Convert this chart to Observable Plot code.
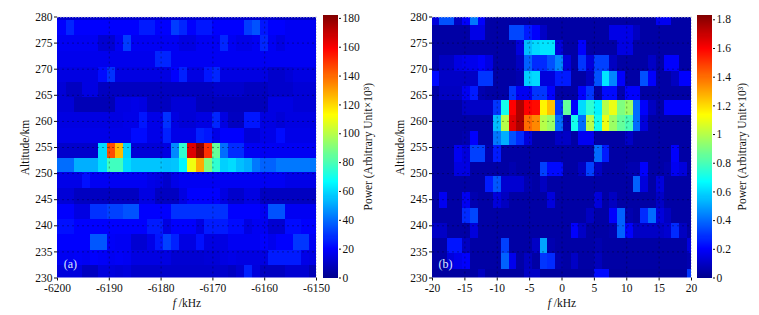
<!DOCTYPE html>
<html>
<head>
<meta charset="utf-8">
<script src="https://cdn.jsdelivr.net/npm/d3@7"></script>
<script src="https://cdn.jsdelivr.net/npm/@observablehq/plot@0.6"></script>
<style>
html,body{margin:0;padding:0;background:#fff;}
#chart{position:relative;width:759px;height:315px;overflow:hidden;}
#chart svg{position:absolute;top:0;background:transparent;}
</style>
</head>
<body>
<div id="chart"></div>
<script>
// Shared tick labels
const altitudeTicks = [230,235,240,245,250,255,260,265,270,275,280];
const freqTicksA = [-6200,-6190,-6180,-6170,-6160,-6150];
const freqTicksB = [-20,-15,-10,-5,0,5,10,15,20];
const colorTicksA = [0,20,40,60,80,100,120,140,160,180];
const colorTicksB = [0,0.2,0.4,0.6,0.8,1,1.2,1.4,1.6,1.8];

// Jet colour map
const jetStops = [0,0.111,0.365,0.619,0.873,1];
const jetColors = ["#00008f","#0000ff","#00ffff","#ffff00","#ff0000","#800000"];

// Panel (a): altitude edges (km) bottom to top
const altEdgesA = [230,232.4,235.2,238.3,241.3,244.1,247.1,250.2,252.9,255.7,258.6,261.7,264.6,267.5,270.4,273.3,276.5,279.4,280];
const freqEdgesA = [-6200,-6198.25,-6196.69,-6195.13,-6193.56,-6192,-6190.44,-6188.88,-6187.31,-6185.75,-6184.19,-6182.63,-6181.06,-6179.5,-6177.94,-6176.38,-6174.81,-6173.25,-6171.69,-6170.13,-6168.56,-6167,-6165.44,-6163.88,-6162.31,-6160.75,-6159.19,-6157.63,-6156.06,-6154.5,-6152.94,-6151.38,-6150];
// Rows bottom to top, power x10^3
const powerA = [
 [14,14,14,9,9,14,14,13,14,11,11,11,11,11,11,11,11,11,11,11,11,9,12,26,14,9,9,9,12,12,12,7],
 [18,18,19,18,20,19,18,19,18,15,15,15,15,15,12,12,12,12,13,13,15,16,15,15,15,15,25,25,25,25,16,15],
 [20,20,20,20,36,36,19,18,18,12,12,16,24,32,26,15,15,23,15,15,15,18,18,18,18,20,17,20,20,30,30,18],
 [23,23,20,20,20,20,20,20,20,20,20,25,25,15,20,20,20,15,25,25,25,22,22,15,18,18,12,12,22,22,20,20],
 [20,20,15,15,29,29,32,32,35,35,20,20,20,20,29,29,29,29,29,29,29,20,20,20,20,18,35,35,18,18,18,18],
 [13,13,9,9,9,9,9,9,9,9,15,15,9,9,9,15,20,20,20,20,15,11,11,15,15,9,9,9,9,9,9,9],
 [16,16,16,23,18,18,18,18,18,18,18,16,15,11,16,18,18,18,18,18,18,18,18,18,18,18,18,18,16,16,16,16],
 [40,40,52,52,52,60,78,78,60,56,56,56,56,55,56,65,110,128,90,75,58,60,55,52,42,38,38,42,42,42,42,42],
 [11,11,11,11,11,60,145,125,58,13,13,13,13,15,45,75,165,180,150,85,40,28,28,18,18,18,18,18,18,18,18,18],
 [16,16,16,16,16,16,16,16,16,22,22,16,16,26,16,16,16,26,24,16,20,20,20,13,13,16,16,22,16,16,16,16],
 [15,15,15,15,15,15,15,15,16,16,24,16,16,29,15,13,13,15,15,27,15,9,9,24,24,15,15,13,15,15,15,15],
 [13,13,7,7,7,7,7,15,15,16,15,9,9,9,13,13,13,8,8,8,8,8,8,8,8,8,15,15,15,13,13,13],
 [13,9,9,15,15,9,9,9,9,9,9,9,9,9,9,9,9,9,9,11,11,11,11,9,9,9,11,11,11,13,13,13],
 [15,15,15,15,15,22,29,15,15,15,15,15,15,15,20,26,15,15,24,27,15,15,15,15,15,15,11,11,13,15,15,15],
 [17,17,17,17,17,17,17,17,17,17,17,17,27,27,18,18,18,18,18,18,18,18,18,18,18,18,18,18,18,18,18,18],
 [18,18,18,18,18,12,12,18,31,18,18,18,18,18,18,15,15,18,18,18,27,18,16,16,18,27,18,15,18,18,18,18],
 [20,27,20,20,20,20,20,20,20,20,25,25,20,20,31,27,20,24,24,20,20,20,20,31,35,24,20,20,18,18,18,18],
 [11,11,11,11,11,11,11,11,11,11,11,11,11,11,11,11,11,11,11,11,11,11,11,11,11,11,11,9,9,9,9,9]
];

// Panel (b)
const altEdgesB = [230,231.7,234.6,237.6,240.4,243.4,246.4,249.4,252.2,255.3,258,261.1,264,266.7,269.6,272.6,275.5,278.4,280];
const freqEdgesB = [-20,-18.93,-17.73,-16.54,-15.34,-14.14,-12.95,-11.75,-10.56,-9.36,-8.16,-6.97,-5.77,-4.58,-3.38,-2.18,-0.99,0.21,1.4,2.6,3.8,4.99,6.19,7.38,8.58,9.78,10.97,12.17,13.36,14.56,15.76,16.95,18.15,19.34,20];
const powerB = [
 [0.03,0.03,0.03,0.03,0.03,0.04,0.09,0.03,0.03,0.03,0.03,0.03,0.1,0.1,0.03,0.03,0.03,0.03,0.03,0.03,0.03,0.22,0.22,0.03,0.03,0.03,0.03,0.03,0.03,0.03,0.03,0.03,0.03,0.3],
 [0.04,0.04,0.14,0.17,0.2,0.04,0.04,0.04,0.04,0.38,0.17,0.04,0.09,0.04,0.3,0.28,0.06,0.04,0.1,0.04,0.04,0.08,0.04,0.04,0.04,0.04,0.04,0.04,0.04,0.04,0.04,0.04,0.04,0.06],
 [0.04,0.04,0.24,0.24,0.09,0.04,0.04,0.04,0.04,0.32,0.04,0.04,0.04,0.1,0.5,0.06,0.04,0.04,0.04,0.04,0.04,0.06,0.04,0.04,0.04,0.04,0.04,0.04,0.04,0.04,0.04,0.04,0.04,0.14],
 [0.1,0.1,0.04,0.04,0.04,0.14,0.04,0.04,0.04,0.04,0.04,0.04,0.04,0.04,0.04,0.04,0.04,0.04,0.2,0.1,0.04,0.04,0.04,0.06,0.38,0.2,0.1,0.1,0.1,0.1,0.12,0.28,0.09,0.04],
 [0.04,0.04,0.04,0.04,0.28,0.33,0.04,0.04,0.04,0.04,0.04,0.04,0.04,0.04,0.04,0.04,0.04,0.04,0.04,0.04,0.09,0.04,0.04,0.2,0.38,0.06,0.04,0.28,0.4,0.14,0.09,0.04,0.04,0.04],
 [0.04,0.18,0.04,0.04,0.18,0.06,0.04,0.04,0.14,0.09,0.04,0.04,0.04,0.04,0.04,0.14,0.04,0.04,0.04,0.04,0.04,0.14,0.04,0.09,0.04,0.04,0.04,0.04,0.04,0.1,0.04,0.04,0.04,0.04],
 [0.04,0.04,0.04,0.04,0.04,0.04,0.04,0.25,0.36,0.12,0.12,0.12,0.06,0.04,0.09,0.04,0.04,0.04,0.04,0.04,0.04,0.04,0.04,0.04,0.04,0.04,0.38,0.14,0.04,0.14,0.04,0.04,0.04,0.04],
 [0.04,0.04,0.04,0.15,0.15,0.04,0.04,0.04,0.04,0.04,0.06,0.04,0.04,0.04,0.32,0.22,0.22,0.04,0.04,0.09,0.32,0.09,0.04,0.04,0.04,0.06,0.06,0.2,0.04,0.04,0.06,0.18,0.14,0.04],
 [0.04,0.04,0.04,0.18,0.14,0.32,0.32,0.06,0.25,0.04,0.04,0.04,0.04,0.04,0.04,0.04,0.04,0.04,0.04,0.04,0.04,0.4,0.25,0.04,0.04,0.04,0.04,0.04,0.04,0.04,0.04,0.2,0.04,0.04],
 [0.04,0.04,0.04,0.04,0.06,0.2,0.04,0.04,0.42,0.52,0.35,0.28,0.14,0.04,0.04,0.04,0.1,0.1,0.04,0.18,0.18,0.04,0.04,0.04,0.04,0.1,0.04,0.04,0.04,0.04,0.04,0.04,0.04,0.04],
 [0.04,0.04,0.04,0.04,0.04,0.04,0.04,0.04,0.55,1,1.65,1.75,1.4,1.35,1,0.95,0.4,0.06,0.7,0.4,1,0.7,1.1,0.95,0.85,0.8,0.4,0.14,0.04,0.04,0.04,0.04,0.04,0.04],
 [0.04,0.04,0.04,0.04,0.1,0.1,0.1,0.1,0.3,0.7,1.6,1.75,1.6,1.58,1.15,1.25,0.3,0.85,0.2,0.6,0.75,0.65,1,1.1,0.9,0.95,0.4,0.2,0.09,0.04,0.2,0.2,0.2,0.2],
 [0.04,0.09,0.09,0.09,0.18,0.25,0.06,0.04,0.04,0.04,0.3,0.18,0.18,0.3,0.3,0.2,0.04,0.04,0.04,0.2,0.3,0.04,0.22,0.22,0.06,0.2,0.2,0.04,0.04,0.04,0.04,0.04,0.04,0.04],
 [0.22,0.1,0.1,0.1,0.1,0.1,0.3,0.3,0.04,0.04,0.04,0.06,0.58,0.6,0.14,0.14,0.25,0.25,0.04,0.04,0.09,0.35,0.62,0.45,0.2,0.04,0.04,0.35,0.2,0.04,0.04,0.09,0.2,0.2],
 [0.04,0.09,0.09,0.15,0.17,0.17,0.2,0.15,0.04,0.04,0.04,0.09,0.38,0.28,0.28,0.35,0.45,0.14,0.04,0.3,0.14,0.32,0.32,0.09,0.04,0.04,0.04,0.04,0.1,0.04,0.2,0.2,0.04,0.04],
 [0.04,0.04,0.04,0.04,0.04,0.04,0.04,0.04,0.04,0.04,0.04,0.14,0.55,0.6,0.62,0.62,0.14,0.04,0.04,0.2,0.04,0.04,0.04,0.04,0.15,0.15,0.04,0.04,0.04,0.04,0.04,0.04,0.04,0.04],
 [0.04,0.04,0.04,0.04,0.04,0.16,0.16,0.04,0.04,0.04,0.33,0.33,0.25,0.2,0.1,0.04,0.04,0.04,0.04,0.04,0.04,0.04,0.04,0.16,0.16,0.16,0.09,0.04,0.04,0.04,0.04,0.04,0.04,0.04],
 [0.14,0.35,0.35,0.09,0.2,0.42,0.2,0.04,0.04,0.04,0.04,0.04,0.04,0.04,0.04,0.04,0.04,0.04,0.04,0.04,0.04,0.04,0.04,0.04,0.04,0.04,0.04,0.04,0.04,0.18,0.18,0.04,0.04,0.04]
];

const FONT = "'Liberation Serif','Times New Roman',serif";
const PLOT_TOP = 16.5, PLOT_BOTTOM = 277.5, FS = 11.5;

function jetScale(max){
  return {type:"linear", domain: jetStops.map(t=>t*max), range: jetColors, interpolate:"rgb"};
}

function flatten(power, xE, yE){
  const cells = [];
  power.forEach((row,r)=>row.forEach((v,c)=>{
    cells.push({x1:xE[c],x2:xE[c+1],y1:yE[r],y2:yE[r+1],v});
  }));
  return cells;
}

function panel({power,xEdges,yEdges,xTicks,xDomain,max,letter,left}){
  const w = 335;
  const plot = Plot.plot({
    width:w, height:315,
    marginLeft:57, marginRight:w-57-259, marginTop:PLOT_TOP, marginBottom:315-PLOT_BOTTOM,
    style:{fontFamily:FONT,fontSize:FS+"px",color:"#111",background:"transparent",overflow:"visible"},
    x:{domain:xDomain,ticks:xTicks,tickFormat:d=>String(d),tickSize:3,tickPadding:3,label:"f /kHz",labelAnchor:"center",labelArrow:"none",labelOffset:29},
    y:{domain:[230,280],ticks:altitudeTicks,tickFormat:d=>String(d),tickSize:3,tickPadding:2,label:"Altitude/km",labelAnchor:"center",labelArrow:"none",labelOffset:37},
    color:jetScale(max),
    marks:[
      Plot.rect(flatten(power,xEdges,yEdges),{x1:"x1",x2:"x2",y1:"y1",y2:"y2",fill:"v",clip:true,shapeRendering:"crispEdges"}),
      Plot.gridX(xTicks.slice(1,-1),{stroke:"#000",strokeOpacity:0.35,strokeDasharray:"2,3"}),
      Plot.gridY(altitudeTicks.slice(1,-1),{stroke:"#000",strokeOpacity:0.35,strokeDasharray:"2,3"}),
      Plot.ruleY([280],{stroke:"#ddd",strokeDasharray:"1.5,1.5"}),
      Plot.ruleX([xDomain[1]],{stroke:"#ddd",strokeDasharray:"1.5,1.5"}),
      Plot.text([letter],{x:()=>xDomain[0]+(xDomain[1]-xDomain[0])*0.05,y:()=>232.7,text:d=>d,fill:"#dfe8ff",fontSize:12,textAnchor:"middle"})
    ]
  });
  plot.style.left = left+"px";
  const xl = plot.querySelector('[aria-label="x-axis label"] text');
  if(xl) xl.innerHTML = '<tspan font-style="italic">f</tspan> /kHz';
  return plot;
}

function colorbar({max,ticks,left,fmt}){
  const steps = d3.range(0,256).map(i=>({a:max*i/256,b:max*(i+1)/256,v:max*(i+0.5)/256}));
  const w = 65;
  const plot = Plot.plot({
    width:w, height:315,
    marginLeft:0, marginRight:w-15, marginTop:PLOT_TOP-1.5, marginBottom:315-PLOT_BOTTOM,
    style:{fontFamily:FONT,fontSize:FS+"px",color:"#111",background:"transparent",overflow:"visible"},
    x:{axis:null,domain:[0,1]},
    y:{domain:[0,max],ticks,tickFormat:fmt,axis:"right",tickSize:2,tickPadding:2,label:"Power (Arbitrary Unit×10³)",labelAnchor:"center",labelArrow:"none",labelOffset:33},
    color:jetScale(max),
    marks:[
      Plot.rect(steps,{x1:()=>0,x2:()=>1,y1:"a",y2:"b",fill:"v",shapeRendering:"crispEdges"})
    ]
  });
  plot.style.left = left+"px";
  return plot;
}

const root = document.getElementById("chart");
root.append(panel({power:powerA,xEdges:freqEdgesA,yEdges:altEdgesA,xTicks:freqTicksA,xDomain:[-6200,-6150],max:182,letter:"(a)",left:0}));
root.append(colorbar({max:182,ticks:colorTicksA,left:323,fmt:d=>String(d)}));
root.append(panel({power:powerB,xEdges:freqEdgesB,yEdges:altEdgesB,xTicks:freqTicksB,xDomain:[-20,20],max:1.83,letter:"(b)",left:375}));
root.append(colorbar({max:1.83,ticks:colorTicksB,left:697,fmt:d=>String(d)}));
</script>
</body>
</html>
